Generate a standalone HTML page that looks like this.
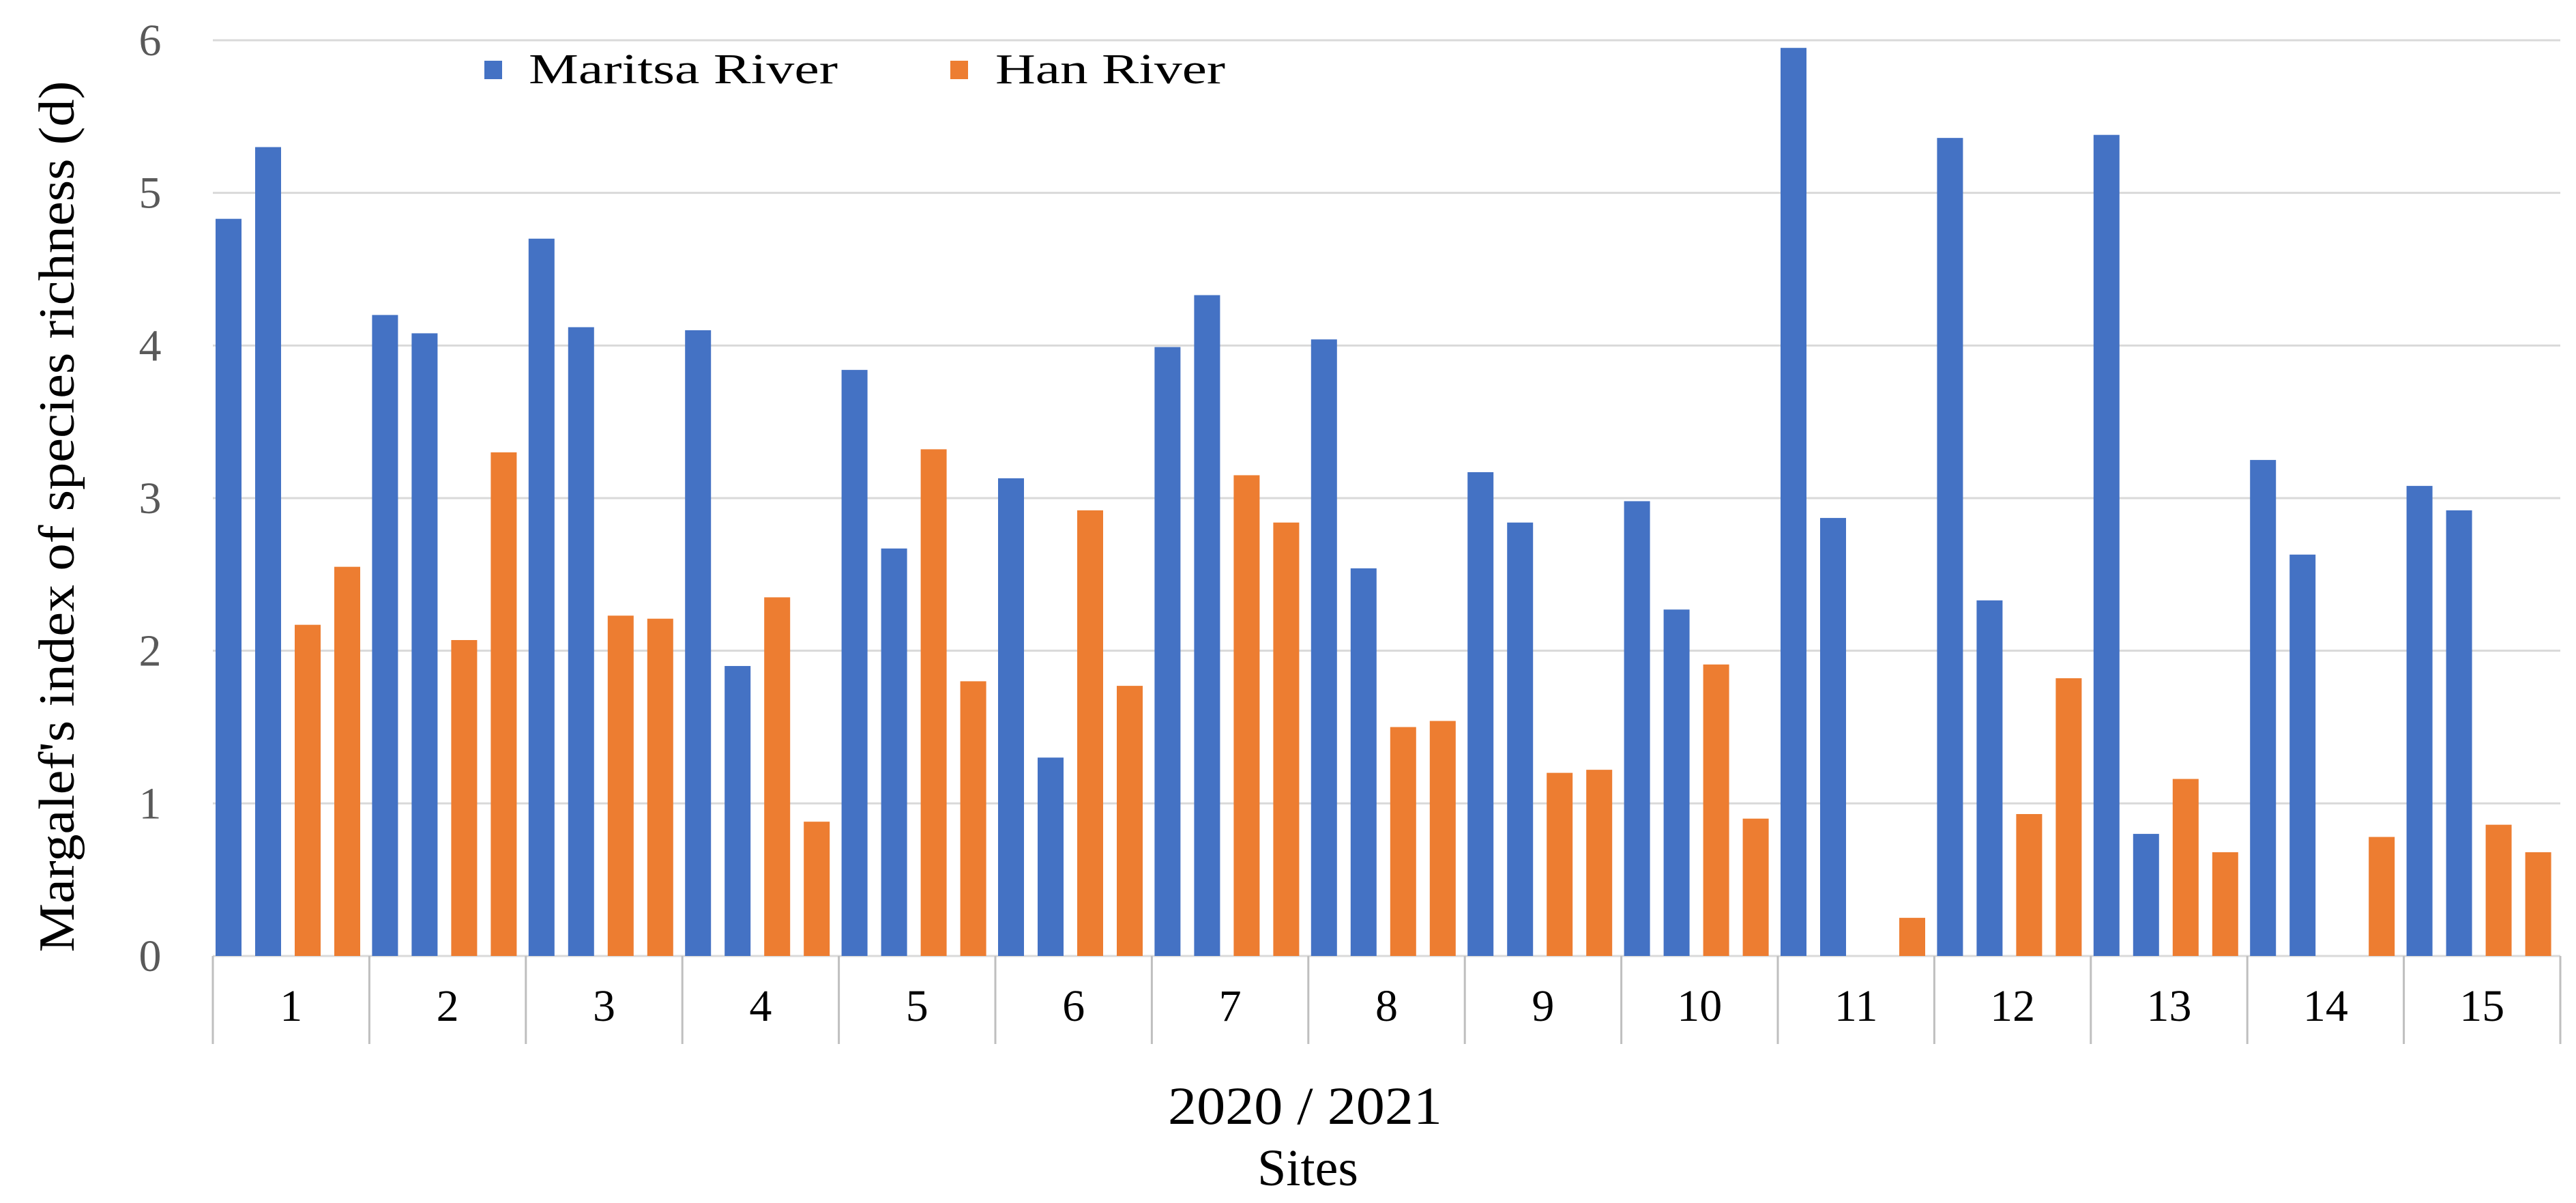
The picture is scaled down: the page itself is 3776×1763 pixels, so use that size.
<!DOCTYPE html>
<html><head><meta charset="utf-8"><style>
html,body{margin:0;padding:0;background:#fff;}
svg{display:block;}
text{font-family:"Liberation Serif",serif;}
</style></head><body>
<svg id="chart" width="3776" height="1763" viewBox="0 0 3776 1763" xmlns="http://www.w3.org/2000/svg">
<g id="grid"></g>
<g id="yticks"></g>
<g id="bars"></g>
<g id="xaxis"></g>
<text transform="translate(108,757) rotate(-90)" text-anchor="middle" font-size="74" fill="#000" textLength="1277" lengthAdjust="spacingAndGlyphs">Margalef's index of species richness (d)</text>
<text x="1913" y="1647" text-anchor="middle" font-size="78" fill="#000" textLength="402" lengthAdjust="spacingAndGlyphs">2020 / 2021</text>
<text x="1917" y="1737" text-anchor="middle" font-size="76" fill="#000">Sites</text>
<g>
<rect x="710" y="89" width="26" height="27" fill="#4472C4"/>
<text x="775" y="122" font-size="62" fill="#000" textLength="453" lengthAdjust="spacingAndGlyphs">Maritsa River</text>
<rect x="1393" y="89" width="26" height="27" fill="#ED7D31"/>
<text x="1459" y="122" font-size="62" fill="#000" textLength="337" lengthAdjust="spacingAndGlyphs">Han River</text>
</g>
</svg>
<script>
const sites = ["1","2","3","4","5","6","7","8","9","10","11","12","13","14","15"];
const maritsa2020 = [4.83,4.2,4.7,4.1,3.84,3.13,3.99,4.04,3.17,2.98,5.95,5.36,5.38,3.25,3.08];
const maritsa2021 = [5.3,4.08,4.12,1.9,2.67,1.3,4.33,2.54,2.84,2.27,2.87,2.33,0.8,2.63,2.92];
const han2020 = [2.17,2.07,2.23,2.35,3.32,2.92,3.15,1.5,1.2,1.91,0,0.93,1.16,0,0.86];
const han2021 = [2.55,3.3,2.21,0.88,1.8,1.77,2.84,1.54,1.22,0.9,0.25,1.82,0.68,0.78,0.68];
const yTicks = [0,1,2,3,4,5,6];

const NS="http://www.w3.org/2000/svg";
const X0=312, X1=3753, Y0=1401, Y6=59;
const catW=(X1-X0)/sites.length;
function y(v){return Y0-(v/6)*(Y0-Y6);}
function xc(i){return X0+i*catW;}
function mk(tag,attrs,parent){const e=document.createElementNS(NS,tag);for(const k in attrs)e.setAttribute(k,attrs[k]);parent.appendChild(e);return e;}
const grid=document.getElementById('grid'),yt=document.getElementById('yticks'),bars=document.getElementById('bars'),xa=document.getElementById('xaxis');
yTicks.forEach(t=>{
  const l=mk('line',{x1:X0,x2:X1,y1:y(t),y2:y(t),stroke:'#d9d9d9','stroke-width':3},grid);
  
  
  const tx=mk('text',{x:220,y:y(t)+22,'text-anchor':'middle','font-size':66,fill:'#595959'},yt);
  tx.textContent=t;
  
  
});
const series=[[maritsa2020,'#4472C4','maritsa-2020'],[maritsa2021,'#4472C4','maritsa-2021'],[han2020,'#ED7D31','han-2020'],[han2021,'#ED7D31','han-2021']];
const bw=38, step=58, off=4;
sites.forEach((s,i)=>{
  series.forEach((sr,j)=>{
    const v=sr[0][i]; if(v<=0) return;
    const r=mk('rect',{x:xc(i)+off+j*step,y:y(v),width:bw,height:Y0-y(v),fill:sr[1]},bars);
    
    
  });
  const tx=mk('text',{x:xc(i)+catW/2,y:1496,'text-anchor':'middle','font-size':66,fill:'#000'},xa);
  tx.textContent=s;
  
  
});
for(let i=0;i<=sites.length;i++){
  const l=mk('line',{x1:xc(i),x2:xc(i),y1:Y0,y2:1530,stroke:'#bfbfbf','stroke-width':3},xa);
  
  
}
</script>
</body></html>
